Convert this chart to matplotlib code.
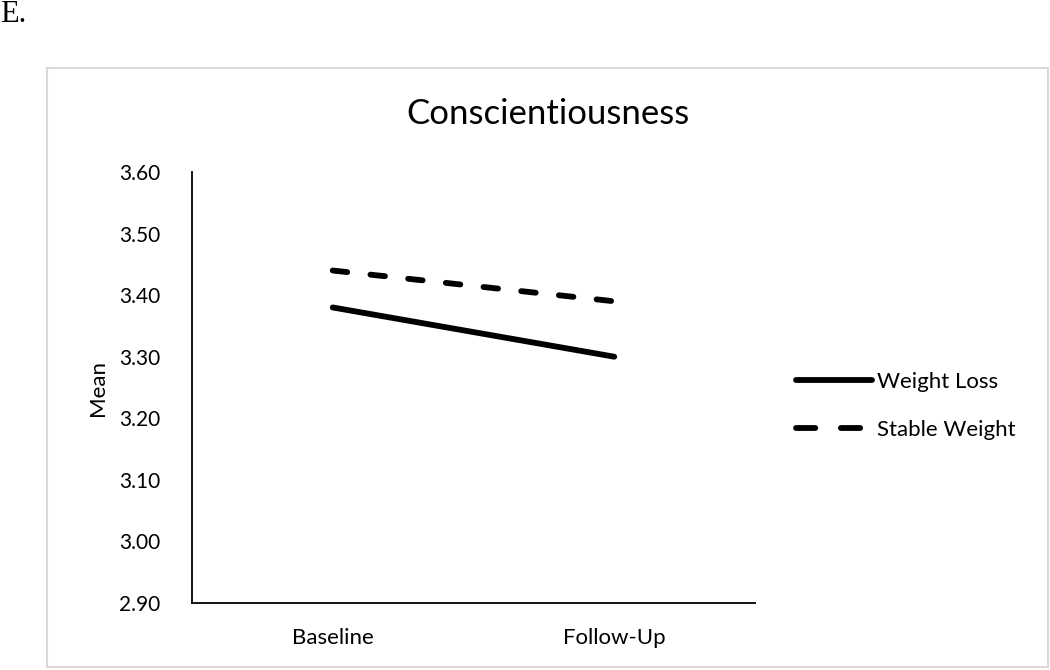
import matplotlib.pyplot as plt
from matplotlib.lines import Line2D
from matplotlib.patches import Rectangle

# Data
timepoints = ['Baseline', 'Follow-Up']
weight_loss = [3.38, 3.30]
stable_weight = [3.44, 3.39]
y_ticks = [2.90, 3.00, 3.10, 3.20, 3.30, 3.40, 3.50, 3.60]

plt.rcParams['font.family'] = ['Lato', 'DejaVu Sans']

fig = plt.figure(figsize=(10.5, 6.7), dpi=100)
ax = fig.add_axes([192 / 1050, 67 / 670, 563 / 1050, 431 / 670])

# Light gray border around the chart area
fig.patches.append(Rectangle((47 / 1050, 3 / 670), 1001 / 1050, 599 / 670,
                             transform=fig.transFigure, fill=False,
                             edgecolor='#d9d9d9', linewidth=1.5))

x = range(len(timepoints))
ax.plot(x, weight_loss, color='black', linewidth=4.2, solid_capstyle='round')
ax.plot(x, stable_weight, color='black', linewidth=4.2, linestyle=(0, (2.5, 4.0)),
        dash_capstyle='round')

ax.set_xlim(-0.5, 1.5)
ax.set_ylim(2.90, 3.60)
ax.set_xticks(list(x))
ax.set_xticklabels(timepoints, fontsize=16)
ax.set_yticks(y_ticks)
ax.set_yticklabels([f'{v:.2f}' for v in y_ticks], fontsize=15)
ax.tick_params(axis='y', length=0, pad=23)
ax.tick_params(axis='x', length=0, pad=18)

for side in ['top', 'right']:
    ax.spines[side].set_visible(False)
ax.spines['left'].set_linewidth(1.3)
ax.spines['bottom'].set_linewidth(1.3)

ax.set_ylabel('Mean', fontsize=16, labelpad=8)
fig.text(548 / 1050, 1 - 114 / 670, 'Conscientiousness', fontsize=25,
         ha='center', va='center')
fig.text(0, 1 - 14 / 670, 'E.', fontsize=22, ha='left', va='center',
         family=['Liberation Serif', 'DejaVu Serif'])

# Legend handles drawn with their own dash pattern so the swatch ends in a gap
handles = [
    Line2D([], [], color='black', linewidth=4.2, solid_capstyle='round'),
    Line2D([], [], color='black', linewidth=4.2, linestyle=(0, (3.3, 4.4)),
           dash_capstyle='round'),
]
fig.legend(handles, ['Weight Loss', 'Stable Weight'], loc='center left',
           bbox_to_anchor=(796 / 1050, 1 - 406 / 670),
           frameon=False, fontsize=16, handlelength=3.4, handletextpad=0.25,
           labelspacing=1.25, borderaxespad=0, borderpad=0)

fig.savefig('out.png', dpi=100)
